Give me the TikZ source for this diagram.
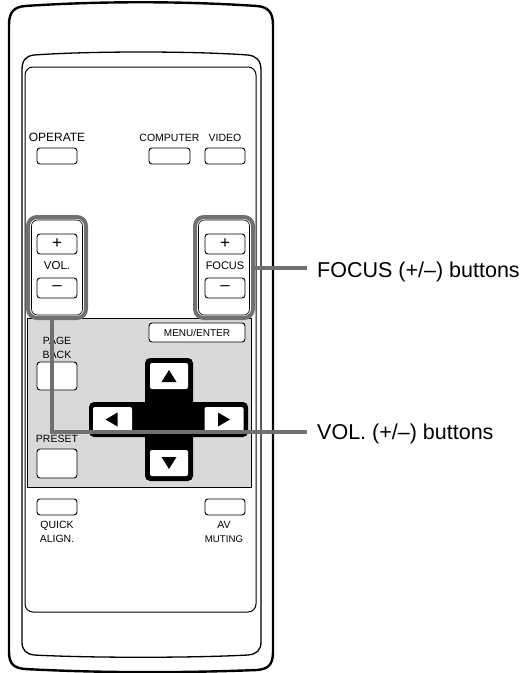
\documentclass[tikz,border=0pt]{standalone}
\usepackage{fontspec}
\setmainfont{Liberation Sans}
\usepackage{tikz}
\usetikzlibrary{positioning,calc}
\usepackage{xcolor}
\definecolor{leadgray}{RGB}{112,112,112}
\definecolor{panelgray}{RGB}{217,217,217}

\begin{document}
\begin{tikzpicture}[
  x=1pt, y=-1pt,
  btn/.style={draw, fill=white, rounded corners=3pt, line width=0.9pt, minimum width=40pt, minimum height=16pt, inner sep=0pt},
  sign/.style={btn, minimum height=20pt, font=\fontsize{17}{17}\selectfont},
  lbl/.style={font=\fontsize{10.5}{14}\selectfont, inner sep=0pt, align=center},
  grp/.style={draw=leadgray, fill=white, line width=4pt, rounded corners=9pt, minimum width=58pt, minimum height=101pt, inner sep=0pt},
  grpin/.style={draw, line width=0.6pt, rounded corners=6pt, minimum width=51pt, minimum height=95pt, inner sep=0pt},
  padbar/.style={fill=black, rounded corners=5pt, inner sep=0pt},
  padkey/.style={fill=white, rounded corners=2pt, inner sep=0pt},
  lead/.style={leadgray, line width=4pt},
  callout/.style={font=\fontsize{21.5}{24}\selectfont, inner sep=0pt, anchor=west}
]
  \useasboundingbox (0,0) rectangle (526,673);
  % remote body
  \draw[line width=2.4pt] (9,25) .. controls (9,12) and (14,7) .. (25,6) .. controls (100,1) and (182,1) .. (257,6) .. controls (268,7) and (273,12) .. (273,25) -- (273,652) .. controls (273,665) and (268,669) .. (257,670) .. controls (182,673) and (100,673) .. (25,669) .. controls (14,668) and (9,664) .. (9,652) -- cycle;
  \draw[line width=1.3pt] (22,70) .. controls (22,60) and (26,56) .. (34,55) .. controls (90,51) and (192,51) .. (248,55) .. controls (256,56) and (261,60) .. (261,70) -- (261,642) .. controls (261,650) and (257,654) .. (248,655) .. controls (192,658) and (90,658) .. (34,655) .. controls (26,654) and (22,650) .. (22,642) -- cycle;
  \draw[line width=1pt, rounded corners=8pt] (25,67) rectangle (256,612);

  % top row
  \node[btn] (operate) at (57,156) {};
  \node[btn, minimum width=41pt] (computer) at (169.5,156) {};
  \node[btn] (video) at (225,156) {};
  \node[lbl, font=\fontsize{12}{14}\selectfont, above=5.7pt of operate] (operatelbl) {OPERATE};
  \node[lbl, above=6.2pt of computer] (computerlbl) {COMPUTER};
  \node[lbl, above=6.2pt of video] (videolbl) {VIDEO};

  % navigation panel
  \node[draw, fill=panelgray, line width=0.8pt, minimum width=224pt, minimum height=169pt, inner sep=0pt] (navpanel) at (139,402.5) {};

  % VOL. and FOCUS groups
  \node[grp] (volgrp) at (57,267.5) {};
  \node[grpin] at (volgrp.center) {};
  \node[sign] (volplus) at (57,244) {+};
  \node[sign] (volminus) at (57,288) {--};
  \node[lbl, font=\fontsize{11.5}{14}\selectfont] (vollbl) at ($(volplus)!0.5!(volminus)$) {VOL.};
  \node[grp] (focgrp) at (224,267.5) {};
  \node[grpin] at (focgrp.center) {};
  \node[sign] (focplus) at (225,244) {+};
  \node[sign] (focminus) at (225,288) {--};
  \node[lbl, font=\fontsize{11}{14}\selectfont] (foclbl) at ($(focplus)!0.5!(focminus)$) {FOCUS};

  % panel buttons
  \node[btn, minimum width=96pt, minimum height=19pt] (menu) at (197,332.5) {\fontsize{10}{12}\selectfont MENU/ENTER};
  \node[btn, minimum height=28pt] (pageback) at (57,376) {};
  \node[lbl, above=2.5pt of pageback] (pagebacklbl) {PAGE\\BACK};
  \node[btn, minimum height=29pt] (preset) at (57,463.5) {};
  \node[lbl, above=6pt of preset] (presetlbl) {PRESET};

  % cursor pad
  \node[padbar, minimum width=48pt, minimum height=123pt] (padv) at (169,419.5) {};
  \node[padbar, minimum width=159pt, minimum height=35pt] (padh) at (168.5,419.5) {};
  \node[padkey, minimum width=38pt, minimum height=26pt] (kup) at (169,376) {};
  \node[padkey, minimum width=39pt, minimum height=25pt] (kleft) at (112.5,419.5) {};
  \node[padkey, minimum width=39pt, minimum height=25pt] (kright) at (224,419.5) {};
  \node[padkey, minimum width=38pt, minimum height=26pt] (kdown) at (169,463) {};
  \fill ([shift={(-7.5pt,-6pt)}]kup.center) -- ++(15pt,0pt) -- ++(-7.5pt,12pt) -- cycle;
  \fill ([shift={(-7.5pt,6pt)}]kdown.center) -- ++(15pt,0pt) -- ++(-7.5pt,-12pt) -- cycle;
  \fill ([shift={(5pt,7pt)}]kleft.center) -- ++(0pt,-14pt) -- ++(-12pt,7pt) -- cycle;
  \fill ([shift={(-6pt,7pt)}]kright.center) -- ++(0pt,-14pt) -- ++(12pt,7pt) -- cycle;

  % bottom row
  \node[btn] (quick) at (57,507) {};
  \node[btn] (avmute) at (225,507) {};
  \node[lbl, below=6pt of quick] (quicklbl) {QUICK\\ALIGN.};
  \node[lbl, below=6pt of avmute, xshift=-1pt] (avmutelbl) {AV\\{\fontsize{9.7}{14}\selectfont MUTING}};

  % callouts
  \node[callout] (focustxt) at (317,272) {FOCUS (+/--) buttons};
  \node[callout] (voltxt) at (317,434) {VOL. (+/--) buttons};
  \draw[lead, shorten >=10pt] (focgrp.east) -- (focgrp.east -| focustxt.west);
  \draw[lead, shorten >=10pt] ([xshift=-5pt]volgrp.south) |- ([yshift=2pt]voltxt.west);
\end{tikzpicture}
\end{document}
